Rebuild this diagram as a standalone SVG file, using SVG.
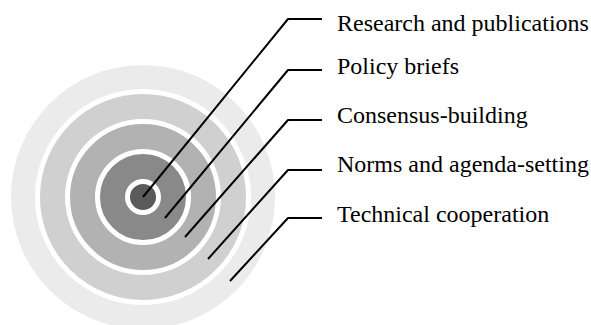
<svg xmlns="http://www.w3.org/2000/svg" width="591" height="325" viewBox="0 0 591 325">
  <style>
    .ring { stroke: #ffffff; stroke-width: 5; }
    .lead { fill: none; stroke: #000000; stroke-width: 2; stroke-linejoin: round; }
    .label { font-family: "Liberation Serif", "Times New Roman", serif; font-size: 24px; fill: #000000; }
  </style>

  <!-- concentric target -->
  <g id="target">
    <circle id="ring-technical" cx="143" cy="197" r="132" fill="#ebebeb"/>
    <circle id="ring-norms" class="ring" cx="143" cy="197" r="105.5" fill="#d0d0d0"/>
    <circle id="ring-consensus" class="ring" cx="143" cy="197" r="75.5" fill="#b2b2b2"/>
    <circle id="ring-policy" class="ring" cx="143" cy="197" r="45.5" fill="#898989"/>
    <circle id="ring-research" class="ring" cx="143" cy="197" r="15.5" fill="#5a5a5a"/>
  </g>

  <!-- leader lines -->
  <g id="connectors">
    <polyline class="lead" points="143,197 288,19 322,19"/>
    <polyline class="lead" points="165,218 288,70 322,70"/>
    <polyline class="lead" points="185,237 288,120 322,120"/>
    <polyline class="lead" points="208,259 288,170 322,170"/>
    <polyline class="lead" points="230,281 288,218 322,218"/>
  </g>

  <g id="label-research"><text class="label" x="337" y="31">Research and publications</text></g>
  <g id="label-policy"><text class="label" x="337" y="74">Policy briefs</text></g>
  <g id="label-consensus"><text class="label" x="337" y="123">Consensus-building</text></g>
  <g id="label-norms"><text class="label" x="337" y="172">Norms and agenda-setting</text></g>
  <g id="label-technical"><text class="label" x="337" y="222">Technical cooperation</text></g>
</svg>
